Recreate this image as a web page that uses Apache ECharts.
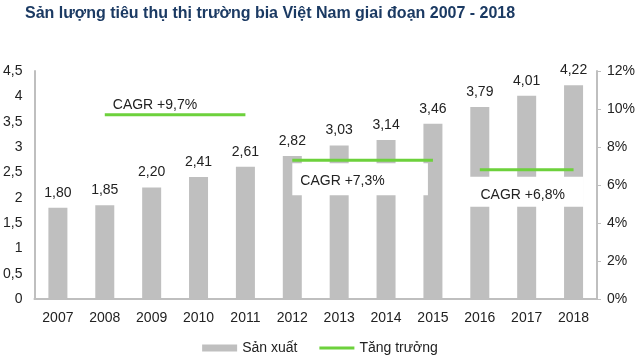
<!DOCTYPE html>
<html><head><meta charset="utf-8">
<script src="https://cdn.jsdelivr.net/npm/echarts@6/dist/echarts.min.js"></script>
<style>html,body{margin:0;padding:0;background:#fff}#c{width:640px;height:362px}</style>
</head><body><div id="c"></div>
<script>
const titleText = 'Sản lượng tiêu thụ thị trường bia Việt Nam giai đoạn 2007 - 2018';
const years = ['2007','2008','2009','2010','2011','2012','2013','2014','2015','2016','2017','2018'];
const production = [1.80,1.85,2.20,2.41,2.61,2.82,3.03,3.14,3.46,3.79,4.01,4.22];
const cagr1 = [null,9.7,9.7,9.7,9.7,null,null,null,null,null,null,null];
const cagr2 = [null,null,null,null,null,7.3,7.3,7.3,7.3,null,null,null];
const cagr3 = [null,null,null,null,null,null,null,null,null,6.8,6.8,6.8];
const cagrLabels = ['CAGR +9,7%','CAGR +7,3%','CAGR +6,8%'];

const FONT = 'Liberation Sans, Arial, sans-serif';
const GREEN = '#6dd13c';
const chart = echarts.init(document.getElementById('c'));
function lineSeries(d){
  return {name:'Tăng trưởng', type:'line', yAxisIndex:1, data:d, symbol:'none', showSymbol:false,
    lineStyle:{color:GREEN,width:3}, itemStyle:{color:GREEN}, z:5, silent:true, animation:false};
}
chart.setOption({
  animation:false,
  title:{text:titleText,left:20,top:1,textStyle:{fontFamily:FONT,fontSize:16,fontWeight:'bold',color:'#1b3a63'}},
  grid:{left:34,right:43,top:71,bottom:63},
  legend:{data:[{name:'Sản xuất',icon:'rect'},{name:'Tăng trưởng',icon:'path://M0,3h36v3h-36z'}],
    bottom:2,left:'center',itemWidth:35,itemHeight:7,itemGap:22,
    textStyle:{fontFamily:FONT,fontSize:14,color:'#222'}},
  xAxis:{type:'category',data:years,axisTick:{show:false},
    axisLine:{lineStyle:{color:'#bfbfbf',width:2}},
    axisLabel:{fontFamily:FONT,fontSize:14,color:'#222',margin:12}},
  yAxis:[
    {type:'value',min:0,max:4.5,interval:0.5,splitLine:{show:false},
     axisLine:{show:true,lineStyle:{color:'#bfbfbf',width:2}},axisTick:{show:false},
     axisLabel:{fontFamily:FONT,fontSize:14,color:'#222',margin:12,formatter:v=>String(v).replace('.',',')}},
    {type:'value',min:0,max:12,interval:2,splitLine:{show:false},position:'right',
     axisLine:{show:true,lineStyle:{color:'#bfbfbf',width:2}},axisTick:{show:true,length:4,lineStyle:{color:'#bfbfbf'}},
     axisLabel:{fontFamily:FONT,fontSize:14,color:'#222',margin:10,formatter:v=>v+'%'}}
  ],
  series:[
    {name:'Sản xuất',type:'bar',data:production,barWidth:19,itemStyle:{color:'#bfbfbf'},
     label:{show:true,position:'top',distance:8,fontFamily:FONT,fontSize:14,color:'#222',
       formatter:p=>p.value.toFixed(2).replace('.',',')}},
    lineSeries(cagr1),lineSeries(cagr2),lineSeries(cagr3)
  ]
});
// CAGR text boxes anchored to data coordinates
function px(cat,val){return chart.convertToPixel({xAxisIndex:0,yAxisIndex:1},[cat,val]);}
const a1 = px(1,9.7), a2 = px(5,7.3), a3 = px(9,6.8);
const b2r = px(8,7.3);
const b3r = px(11,6.8);
chart.setOption({graphic:[
  {type:'text',x:a1[0]+8,y:a1[1]-10,z:10,style:{text:cagrLabels[0],font:'14px '+FONT,fill:'#222',textVerticalAlign:'middle'}},
  {type:'rect',x:a2[0],y:a2[1]+3,z:10,shape:{width:b2r[0]-a2[0]-5,height:32},style:{fill:'#fff'}},
  {type:'text',x:a2[0]+8,y:a2[1]+21,z:11,style:{text:cagrLabels[1],font:'14px '+FONT,fill:'#222',textVerticalAlign:'middle'}},
  {type:'rect',x:a3[0]-10,y:a3[1]+7,z:10,shape:{width:b3r[0]-a3[0]+20,height:30},style:{fill:'#fff'}},
  {type:'text',x:(a3[0]+b3r[0])/2-4,y:a3[1]+25,z:11,style:{text:cagrLabels[2],font:'14px '+FONT,fill:'#222',textAlign:'center',textVerticalAlign:'middle'}}
]});
</script></body></html>
